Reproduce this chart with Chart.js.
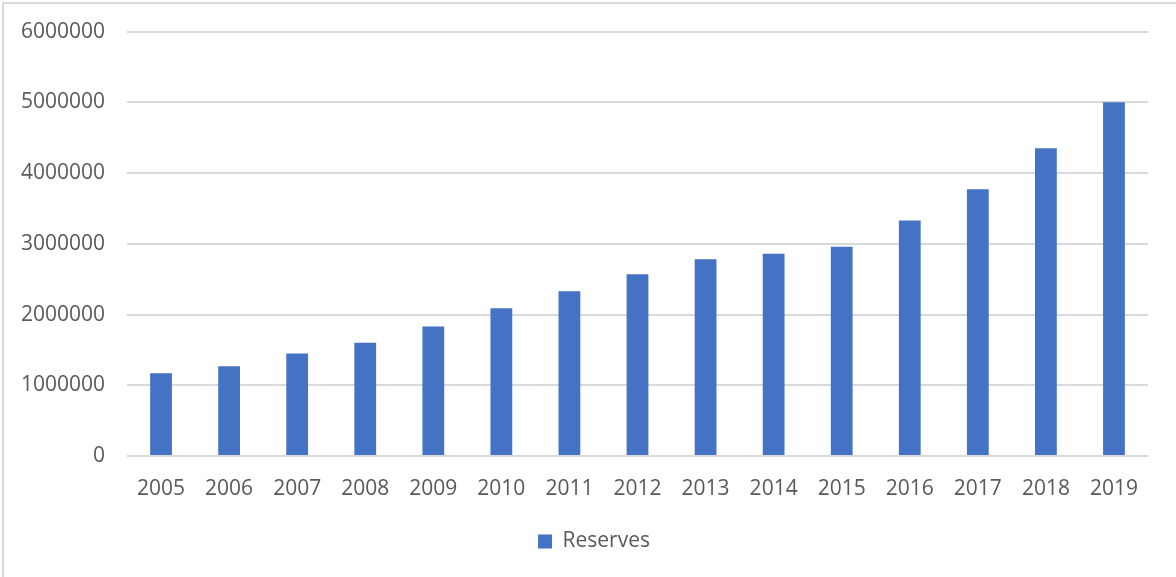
<!DOCTYPE html>
<html>
<head>
<meta charset="utf-8">
<script src="https://cdn.jsdelivr.net/npm/chart.js@4.4.1/dist/chart.umd.min.js"></script>
<style>
  html, body { margin: 0; padding: 0; background: #fff; }
  #wrap { position: relative; width: 1176px; height: 577px; overflow: hidden; }
  #frame { position: absolute; left: 2px; top: 2px; width: 1180px; height: 580px;
           border-top: 2px solid #D9D9D9; border-left: 2px solid #D9D9D9; box-sizing: border-box; }
  canvas { position: absolute; left: 0; top: -3px; }
</style>
</head>
<body>
<div id="wrap">
  <div id="frame"></div>
  <canvas id="c" width="1176" height="580"></canvas>
</div>
<script>
const categories = ["2005","2006","2007","2008","2009","2010","2011","2012","2013","2014","2015","2016","2017","2018","2019"];
const reserves = [1170000,1270000,1450000,1600000,1830000,2090000,2330000,2570000,2780000,2860000,2960000,3330000,3770000,4350000,5000000];
const seriesName = "Reserves";
const yMax = 6000000;
const yStep = 1000000;

const FONT = "'Open Sans', sans-serif";
const TXT = "#595959";

// shift the legend so it is centred like the original
const legendShift = {
  id: "legendShift",
  afterLayout(chart) {
    if (chart.legend) {
      chart.legend.left += 20;
      chart.legend.right += 20;
    }
  }
};

new Chart(document.getElementById("c"), {
  type: "bar",
  data: {
    labels: categories,
    datasets: [{
      label: seriesName,
      data: reserves,
      backgroundColor: "#4472C4",
      borderWidth: 0,
      categoryPercentage: 1,
      barPercentage: 0.32
    }]
  },
  plugins: [legendShift],
  options: {
    responsive: false,
    animation: false,
    devicePixelRatio: 1,
    layout: { padding: { left: 0, right: 28, top: 28, bottom: 15 } },
    plugins: {
      tooltip: { enabled: false },
      legend: {
        position: "bottom",
        labels: {
          color: TXT,
          font: { family: FONT, size: 21 },
          boxWidth: 14,
          boxHeight: 14,
          padding: 10
        }
      }
    },
    scales: {
      x: {
        grid: { display: false, drawTicks: false },
        border: { display: false },
        ticks: { color: TXT, font: { family: FONT, size: 21 }, padding: 20, maxRotation: 0 },
        afterFit: (s) => { s.height = 65; }
      },
      y: {
        min: 0,
        max: yMax,
        grid: { color: "#D9D9D9", lineWidth: 2, drawTicks: false },
        border: { display: false },
        ticks: {
          stepSize: yStep,
          color: TXT,
          font: { family: FONT, size: 21 },
          padding: 22,
          callback: (v) => String(v)
        },
        afterFit: (s) => { s.width = 127; }
      }
    }
  }
});
</script>
</body>
</html>
